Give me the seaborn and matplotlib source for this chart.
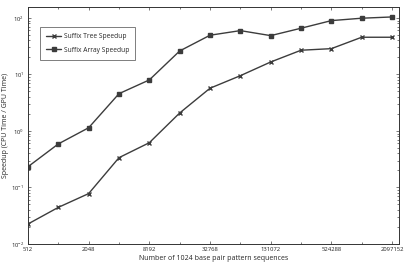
import numpy as np
import pandas as pd
import matplotlib
matplotlib.use("Agg")
import matplotlib.pyplot as plt
import matplotlib.ticker as mticker
import seaborn as sns

# data
sequences = [512, 1024, 2048, 4096, 8192, 16384, 32768, 65536,
             131072, 262144, 524288, 1048576, 2097152]
tree_speedup = [0.0226, 0.0445, 0.078, 0.337, 0.62, 2.08, 5.7, 9.5,
                16.6, 26.8, 28.6, 45.5, 45.5]
array_speedup = [0.233, 0.59, 1.14, 4.57, 8.0, 26.0, 49.4, 59.6,
                 48.6, 65.7, 89.6, 98.8, 104.0]
series_names = ["Suffix Tree Speedup", "Suffix Array Speedup"]
xtick_values = [512, 2048, 8192, 32768, 131072, 524288, 2097152]

df = pd.concat([
    pd.DataFrame({"n": sequences, "speedup": tree_speedup, "series": series_names[0]}),
    pd.DataFrame({"n": sequences, "speedup": array_speedup, "series": series_names[1]}),
])

sns.set_style("ticks")
plt.rcParams["font.family"] = ["Open Sans", "DejaVu Sans"]
plt.rcParams["mathtext.fontset"] = "dejavusans"

line_col = "#3c3c3c"
fig = plt.figure(figsize=(4.15, 2.64), dpi=100)
ax = fig.add_axes([28 / 415, 20 / 264, 371 / 415, 237 / 264])

# one call per series: seaborn won't mix 'x' (line art) with 's' (filled)
for name, mk in zip(series_names, ["x", "s"]):
    sns.lineplot(data=df[df["series"] == name], x="n", y="speedup",
                 color=line_col, marker=mk, markersize=3.5,
                 markeredgewidth=1.0, markeredgecolor=line_col,
                 linewidth=1.0, label=name, ax=ax)

ax.set_xscale("log", base=2)
ax.set_yscale("log")
ax.set_xlim(512, 2 ** 21.23)
ax.set_ylim(0.01, 156)

ax.set_xticks(xtick_values)
ax.set_xticklabels([str(v) for v in xtick_values])
# minor ticks sit on the unlabelled powers of two
ax.xaxis.set_minor_locator(mticker.FixedLocator([2 * v for v in xtick_values[:-1]]))
ax.xaxis.set_minor_formatter(mticker.NullFormatter())
ax.yaxis.set_major_locator(mticker.LogLocator(base=10, numticks=10))
ax.yaxis.set_minor_locator(mticker.LogLocator(base=10, subs=np.arange(2, 10), numticks=20))
ax.yaxis.set_minor_formatter(mticker.NullFormatter())

ax.tick_params(which="both", direction="in", top=True, right=True,
               colors="#444444", labelcolor="#222222", width=0.5)
ax.tick_params(which="major", length=2.5, labelsize=4.2)
ax.tick_params(axis="x", which="major", pad=2.5)
ax.tick_params(axis="y", which="major", pad=3)
ax.tick_params(which="minor", length=1.5)
for s in ax.spines.values():
    s.set_linewidth(0.7)
    s.set_color("#333333")

ax.set_xlabel("Number of 1024 base pair pattern sequences", fontsize=5.0, labelpad=1.5)
ax.set_ylabel("Speedup (CPU Time / GPU Time)", fontsize=5.0, labelpad=1)

leg = ax.legend(loc="upper left", bbox_to_anchor=(0.032, 0.916), borderaxespad=0,
                fontsize=4.8, frameon=True, fancybox=False, edgecolor="#444444",
                borderpad=0.9, labelspacing=1.0, handlelength=2.3, handletextpad=0.4)
leg.get_frame().set_linewidth(0.6)

fig.savefig("out.png", dpi=100)
